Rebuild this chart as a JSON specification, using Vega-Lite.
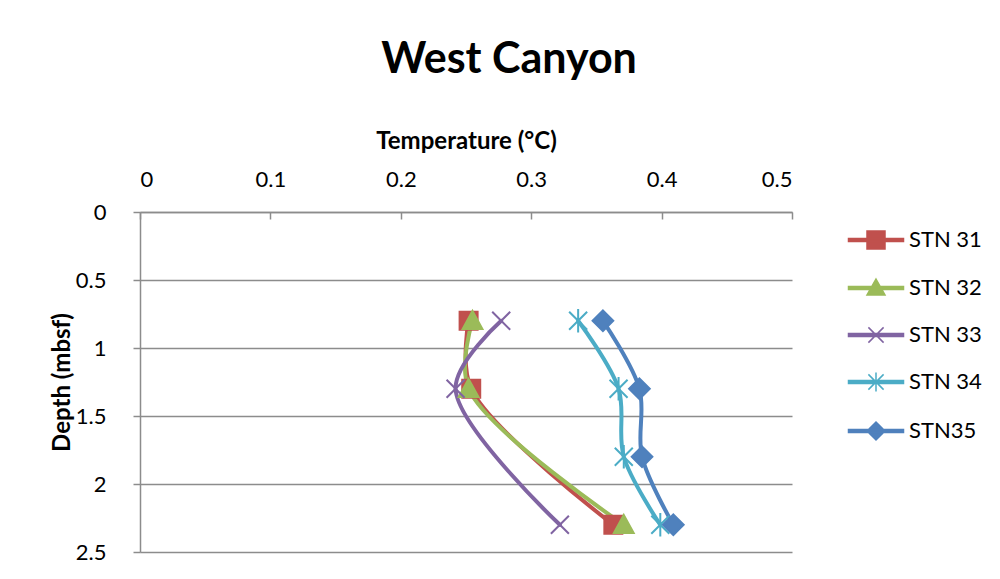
{
  "$schema": "https://vega.github.io/schema/vega-lite/v6.json",
  "autosize": "none",
  "width": 652,
  "height": 340,
  "padding": {"left": 140, "top": 212, "right": 208, "bottom": 27},
  "background": "white",
  "title": {
    "text": "West Canyon",
    "font": "Lato",
    "fontSize": 43,
    "fontWeight": "bold",
    "color": "#000000",
    "anchor": "middle",
    "frame": "group",
    "dx": 43,
    "offset": 47
  },
  "config": {
    "view": {"stroke": null},
    "font": "Lato",
    "axis": {
      "labelFont": "Lato",
      "labelFontSize": 22,
      "labelColor": "#000000",
      "titleFont": "Lato",
      "titleFontSize": 24,
      "titleFontWeight": "bold",
      "titleColor": "#000000",
      "domainColor": "#8c8c8c",
      "domainWidth": 1.5,
      "tickColor": "#8c8c8c",
      "tickWidth": 1.5,
      "gridColor": "#8c8c8c",
      "gridWidth": 1.5
    }
  },
  "data": {
    "values": [
      {"stn": "STN 31", "temp": 0.252, "depth": 0.8},
      {"stn": "STN 31", "temp": 0.254, "depth": 1.3},
      {"stn": "STN 31", "temp": 0.363, "depth": 2.3},
      {"stn": "STN 32", "temp": 0.255, "depth": 0.8},
      {"stn": "STN 32", "temp": 0.252, "depth": 1.3},
      {"stn": "STN 32", "temp": 0.371, "depth": 2.3},
      {"stn": "STN 33", "temp": 0.277, "depth": 0.8},
      {"stn": "STN 33", "temp": 0.242, "depth": 1.3},
      {"stn": "STN 33", "temp": 0.322, "depth": 2.3},
      {"stn": "STN 34", "temp": 0.336, "depth": 0.8},
      {"stn": "STN 34", "temp": 0.367, "depth": 1.3},
      {"stn": "STN 34", "temp": 0.371, "depth": 1.8},
      {"stn": "STN 34", "temp": 0.399, "depth": 2.3},
      {"stn": "STN35", "temp": 0.355, "depth": 0.8},
      {"stn": "STN35", "temp": 0.383, "depth": 1.3},
      {"stn": "STN35", "temp": 0.385, "depth": 1.8},
      {"stn": "STN35", "temp": 0.409, "depth": 2.3}
    ]
  },
  "encoding": {
    "x": {
      "field": "temp",
      "type": "quantitative",
      "scale": {"domain": [0, 0.5], "nice": false, "zero": false},
      "axis": {
        "orient": "top",
        "title": "Temperature (°C)",
        "values": [0, 0.1, 0.2, 0.3, 0.4, 0.5],
        "format": "~g",
        "grid": false,
        "tickSize": -7,
        "labelPadding": 28,
        "titlePadding": 15
      }
    },
    "y": {
      "field": "depth",
      "type": "quantitative",
      "scale": {"domain": [0, 2.5], "reverse": true, "nice": false, "zero": false},
      "axis": {
        "title": "Depth (mbsf)",
        "values": [0, 0.5, 1, 1.5, 2, 2.5],
        "format": "~g",
        "grid": true,
        "tickSize": 7,
        "labelPadding": 27,
        "titlePadding": 1
      }
    }
  },
  "layer": [
    {
      "mark": {"type": "line", "interpolate": "catmull-rom", "strokeWidth": 4, "strokeCap": "round"},
      "encoding": {
        "color": {
          "field": "stn",
          "type": "nominal",
          "scale": {
            "domain": ["STN 31", "STN 32", "STN 33", "STN 34", "STN35"],
            "range": ["#C0504D", "#9BBB59", "#8064A2", "#4BACC6", "#4F81BD"]
          },
          "legend": null
        },
        "order": {"field": "depth", "type": "quantitative"}
      }
    },
    {
      "mark": {"type": "point", "filled": true, "opacity": 1, "strokeWidth": 2, "size": 324},
      "encoding": {
        "color": {"field": "stn", "type": "nominal", "legend": null},
        "stroke": {
          "field": "stn",
          "type": "nominal",
          "scale": {
            "domain": ["STN 31", "STN 32", "STN 33", "STN 34", "STN35"],
            "range": ["#C0504D", "#9BBB59", "#8064A2", "#4BACC6", "#4F81BD"]
          },
          "legend": null
        },
        "shape": {
          "field": "stn",
          "type": "nominal",
          "scale": {
            "domain": ["STN 31", "STN 32", "STN 33", "STN 34", "STN35"],
            "range": [
              "M-1,-1H1V1H-1Z",
              "M0,-1.1L1.1,0.9H-1.1Z",
              "M-1,-1L1,1M-1,1L1,-1",
              "M-1,-1L1,1M-1,1L1,-1M0,-1.3V1.3",
              "M0,-1.15L1.15,0L0,1.15L-1.15,0Z"
            ]
          },
          "legend": null
        }
      }
    },
    {
      "mark": {"type": "point", "filled": true, "opacity": 0, "strokeWidth": 1.5},
      "encoding": {
        "fill": {
          "field": "stn",
          "type": "nominal",
          "scale": {
            "domain": ["STN 31", "STN 32", "STN 33", "STN 34", "STN35"],
            "range": ["#C0504D", "#9BBB59", "#8064A2", "#4BACC6", "#4F81BD"]
          }
        },
        "stroke": {
          "field": "stn",
          "type": "nominal",
          "scale": {
            "domain": ["STN 31", "STN 32", "STN 33", "STN 34", "STN35"],
            "range": ["#C0504D", "#9BBB59", "#8064A2", "#4BACC6", "#4F81BD"]
          }
        },
        "shape": {
          "field": "stn",
          "type": "nominal",
          "scale": {
            "domain": ["STN 31", "STN 32", "STN 33", "STN 34", "STN35"],
            "range": [
              "M-1.375,-0.08H1.375V0.08H-1.375ZM-0.45,-0.45H0.45V0.45H-0.45Z",
              "M-1.375,-0.08H1.375V0.08H-1.375ZM0,-0.45L0.45,0.35H-0.45Z",
              "M-1.375,-0.08H1.375V0.08H-1.375ZM-0.38,-0.38L0.38,0.38M-0.38,0.38L0.38,-0.38",
              "M-1.375,-0.08H1.375V0.08H-1.375ZM-0.38,-0.38L0.38,0.38M-0.38,0.38L0.38,-0.38M0,-0.48V0.48",
              "M-1.375,-0.08H1.375V0.08H-1.375ZM0,-0.45L0.45,0L0,0.45L-0.45,0Z"
            ]
          },
          "legend": {
            "orient": "none",
            "legendX": 715,
            "legendY": 7,
            "title": null,
            "padding": 0,
            "symbolSize": 1600,
            "symbolStrokeWidth": 1.5,
            "symbolOpacity": 1,
            "rowPadding": 15,
            "labelFont": "Lato",
            "labelFontSize": 22,
            "labelColor": "#000000",
            "labelOffset": 12
          }
        }
      }
    }
  ],
  "resolve": {
    "scale": {"shape": "independent", "fill": "independent", "stroke": "independent"}
  }
}
